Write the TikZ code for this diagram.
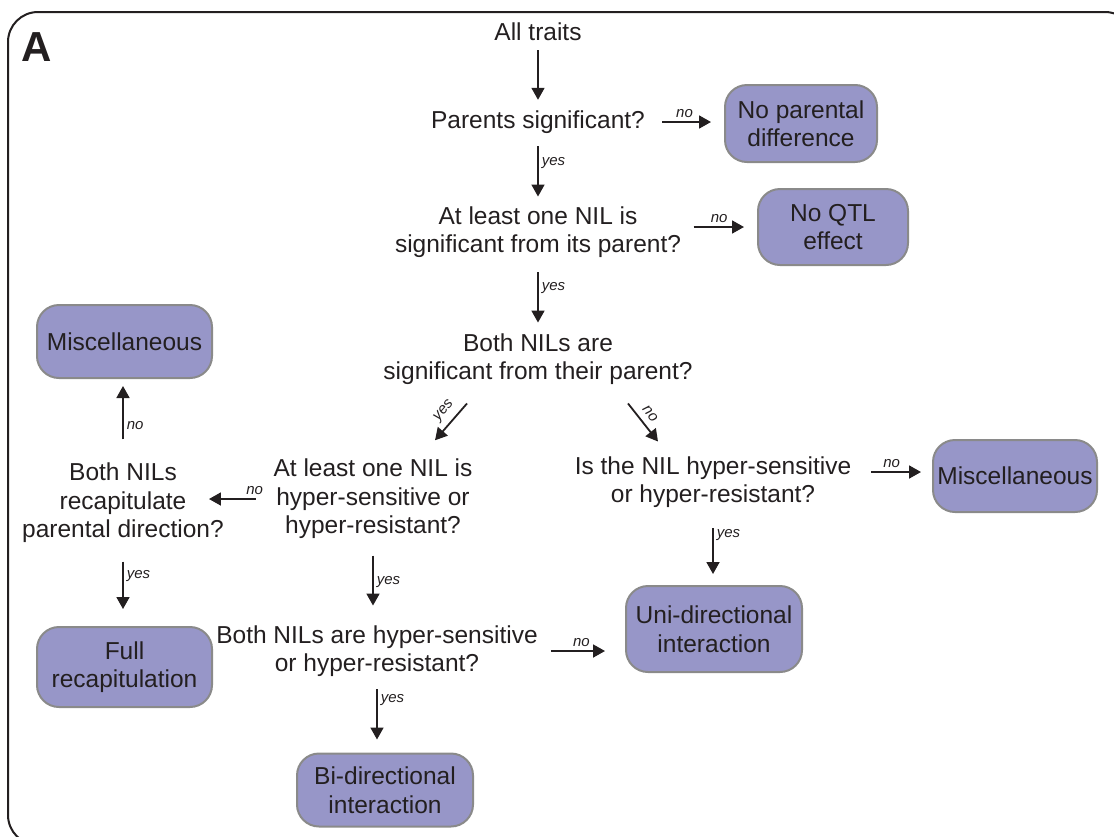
\documentclass[tikz,border=0pt]{standalone}
\usepackage{fontspec}
\setmainfont{Liberation Sans}
\usetikzlibrary{arrows.meta}
\definecolor{boxfill}{HTML}{9796C8}
\definecolor{boxedge}{HTML}{8A8A8A}
\definecolor{ink}{HTML}{231F20}
\begin{document}
\begin{tikzpicture}[x=1pt,y=-1pt,
  q/.style={align=center,font=\fontsize{24.5}{28.5}\selectfont,text=ink,inner sep=0pt},
  res/.style={draw=boxedge,line width=2pt,fill=boxfill,rounded corners=22pt,align=center,
    font=\fontsize{24.5}{28.5}\selectfont,text=ink,inner sep=0pt},
  arr/.style={-{Triangle[length=12pt,width=13pt]},line width=1.8pt,draw=ink},
  lab/.style={font=\fontsize{15}{17}\selectfont\itshape,text=ink,inner sep=3pt},
  dlab/.style={lab,inner sep=6pt}]
\useasboundingbox (0,0) rectangle (1114,836);
\draw[line width=2pt,draw=ink,rounded corners=30pt] (8,12) rectangle (1135,845);
\node[font=\fontsize{42}{42}\selectfont\bfseries,text=ink,inner sep=0pt] (lblA) at (37,47) {A};

% question nodes
\node[q] (n0) at (538,32) {All traits};
\node[q] (n1) at (538,122) {Parents significant?};
\node[q] (n2) at (538,232) {At least one NIL is\\significant from its parent?};
\node[q] (n3) at (538,359) {Both NILs are\\significant from their parent?};
\node[q] (n4) at (373,499) {At least one NIL is\\hyper-sensitive or\\hyper-resistant?};
\node[q] (n5) at (123,503) {Both NILs\\recapitulate\\parental direction?};
\node[q] (n6) at (377,651) {Both NILs are hyper-sensitive\\or hyper-resistant?};
\node[q] (n7) at (713,482) {Is the NIL hyper-sensitive\\or hyper-resistant?};

% result boxes
\node[res,minimum width=152pt,minimum height=77pt] (b1) at (801,123.5) {No parental\\difference};
\node[res,minimum width=150pt,minimum height=76pt] (b2) at (833,227) {No QTL\\effect};
\node[res,minimum width=175pt,minimum height=73pt] (b3) at (124.5,341.5) {Miscellaneous};
\node[res,minimum width=175pt,minimum height=80pt] (b4) at (124.5,667) {Full\\recapitulation};
\node[res,minimum width=176pt,minimum height=86pt] (b5) at (714,629) {Uni-directional\\interaction};
\node[res,minimum width=176pt,minimum height=73pt] (b6) at (385,790) {Bi-directional\\interaction};
\node[res,minimum width=164pt,minimum height=72pt] (b7) at (1015,476) {Miscellaneous};

% connectors
\draw[arr,shorten <=9pt,shorten >=10.6pt] (n0.south) -- (n1.north);
\draw[arr,shorten <=12.6pt,shorten >=9.6pt] (n1.south) -- (n2.north) node[lab,pos=0.4,right] {yes};
\draw[arr,shorten <=14.6pt,shorten >=10.6pt] (n2.south) -- (n3.north) node[lab,pos=0.4,right] {yes};
\draw[arr,shorten <=17pt,shorten >=13pt] (n1.east) -- (n1.east -| b1.west) node[lab,midway,above] {no};
\draw[arr,shorten <=12.5pt,shorten >=13pt] ([yshift=5pt]n2.east) -- ([yshift=5pt]n2.east -| b2.west) node[lab,midway,above] {no};
\draw[arr] ([xshift=-71pt,yshift=-18.6pt]n3.south) -- ([xshift=62pt,yshift=18.6pt]n4.north) node[dlab,pos=0.42,sloped,above] {yes};
\draw[arr] ([xshift=90pt,yshift=-18.6pt]n3.south) -- ([xshift=-55pt,yshift=14.6pt]n7.north) node[dlab,pos=0.45,sloped,above] {no};
\draw[arr,shorten <=17.5pt,shorten >=-15pt] (n4.west) -- (n4.west -| n5.east) node[lab,pos=0.38,above] {no};
\draw[arr,shorten <=23.6pt,shorten >=7pt] (n5.north) -- (n5.north |- b3.south) node[lab,pos=0.45,right] {no};
\draw[arr,shorten <=18.6pt,shorten >=17pt] (n5.south) -- (n5.south |- b4.north) node[lab,pos=0.4,right] {yes};
\draw[arr,shorten <=16.6pt,shorten >=19.6pt] (n4.south) -- (n4.south |- n6.north) node[lab,pos=0.5,right] {yes};
\draw[arr,shorten <=13pt,shorten >=20pt] (n6.east) -- (n6.east -| b5.west) node[lab,midway,above] {no};
\draw[arr,shorten <=12.6pt,shorten >=13pt] (n6.south) -- (n6.south |- b6.north) node[lab,pos=0.3,right] {yes};
\draw[arr,shorten <=20.6pt,shorten >=11pt] (n7.south) -- (n7.south |- b5.north) node[lab,pos=0.35,right] {yes};
\draw[arr,shorten <=20pt,shorten >=11pt] ([yshift=10pt]n7.east) -- ([yshift=10pt]n7.east -| b7.west) node[lab,midway,above] {no};
\end{tikzpicture}
\end{document}
